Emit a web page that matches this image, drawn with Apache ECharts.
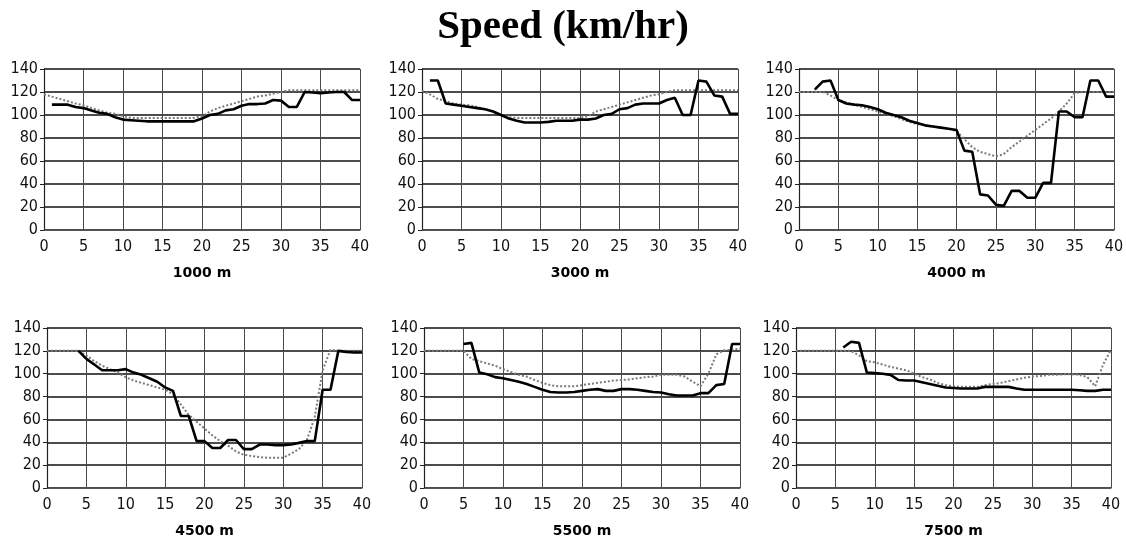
<!DOCTYPE html>
<html>
<head>
<meta charset="utf-8">
<title>Speed (km/hr)</title>
<script src="https://cdn.jsdelivr.net/npm/echarts@6/dist/echarts.min.js"></script>
<style>
  html, body { margin: 0; padding: 0; background: #fff; }
  #chart { width: 1126px; height: 540px; }
</style>
</head>
<body>
<div id="chart"></div>
<script>
// Distance along the section (x axis), shared by every panel
const distance = [0, 1, 2, 3, 4, 5, 6, 7, 8, 9, 10,
  11, 12, 13, 14, 15, 16, 17, 18, 19, 20,
  21, 22, 23, 24, 25, 26, 27, 28, 29, 30,
  31, 32, 33, 34, 35, 36, 37, 38, 39, 40];

const xTicks = [0, 5, 10, 15, 20, 25, 30, 35, 40];
const yTicks = [0, 20, 40, 60, 80, 100, 120, 140];

const chartTitle = 'Speed (km/hr)';

// Panel captions (x axis names)
const panelNames = ['1000 m', '3000 m', '4000 m', '4500 m', '5500 m', '7500 m'];

// Solid line (measured speed), km/hr
const measured1000 = [null, 109, 109, 109, 107, 106, 104, 102, 101, 98, 96,
  95.5, 95, 94.5, 94.5, 94.5, 94.5, 94.5, 94.5, 94.5, 97,
  100, 101, 104, 105, 108, 109.5, 109.5, 110, 113, 112.5,
  107, 107, 120, 119.5, 119, 119.5, 120, 120, 113, 113];
const measured3000 = [null, 130, 130, 110, 109, 108, 107, 106, 105, 103, 100,
  97, 95, 93.5, 93.5, 93.5, 94, 95, 95, 95, 96,
  96, 97, 100, 101, 105, 106, 109, 110, 110, 110,
  113, 115, 100, 100, 130, 129, 117, 116, 101, 101];
const measured4000 = [null, null, 122, 129, 130, 113, 110, 109, 108.5, 107, 105,
  102, 100, 98, 95, 93, 91, 90, 89, 88, 87,
  69, 68, 31, 30, 22, 21, 34, 34, 28, 28,
  41, 41, 103, 103, 98, 98, 130, 130, 116, 116];
const measured4500 = [null, null, null, null, 120, 113, 108, 103, 103, 103, 104,
  101, 99, 96, 93, 88, 85, 63, 63, 41, 41,
  35, 35, 42, 42, 34, 34, 38, 38, 37.5, 37.5,
  38, 39.5, 41, 41, 86, 86, 120, 119, 118.5, 118.5];
const measured5500 = [null, null, null, null, null, 126, 127, 101, 99.5, 97, 96,
  94.5, 93, 91, 88.5, 86, 84, 83.5, 83.5, 84, 85,
  86, 86.5, 85, 85, 86.5, 86.5, 86, 85, 84, 83.5,
  82, 81, 81, 81, 83, 83, 90, 91, 126, 126];
const measured7500 = [null, null, null, null, null, null, 123, 128, 127, 101, 100.5,
  100, 99, 94.5, 94, 94, 92.5, 91, 89.5, 88, 87.5,
  87, 87, 87, 88.5, 88.5, 88.5, 88.5, 87, 86, 86,
  86, 86, 86, 86, 86, 85.5, 85, 85, 86, 86];

// Dotted line (predicted speed), km/hr
const predicted1000 = [118, 116, 114, 112, 110, 108.5, 106, 104, 102, 101, 99,
  97.5, 97.5, 97.5, 97.5, 97.5, 97.5, 97.5, 97.5, 97.5, 99,
  103, 106, 108, 110, 112, 114, 116, 117, 118.5, 120,
  121.5, 121.5, 121.5, 121.5, 121.5, 121.5, 121.5, 121.5, 121.5, 121.5];
const predicted3000 = [121, 118, 114, 112, 110, 109, 108.5, 107, 105, 103, 100,
  98, 97.5, 97.5, 97.5, 97.5, 97.5, 97.5, 97.5, 97.5, 97.5,
  99, 103, 105, 107, 109, 111, 113, 115, 117, 118,
  120, 121.5, 121.5, 121.5, 121.5, 121.5, 121.5, 121.5, 121.5, 121.5];
const predicted4000 = [120, 120, 120, 120, 117, 113, 111, 109, 107, 105, 103,
  101, 99, 96.5, 94, 92, 91, 90, 89, 88, 86,
  79, 72, 68, 66, 64, 66, 72, 77, 82, 87,
  92, 97, 103, 110, 119, 120, 120, 120, 120, 120];
const predicted4500 = [120, 120, 120, 120, 120, 116, 111, 107, 104, 101, 97,
  94, 92, 90, 88, 86, 82, 73, 64, 58, 52,
  46, 41, 37, 32, 29, 28, 27, 26.5, 26.5, 26.5,
  30, 34, 42, 62, 103, 121, 120, 120, 120, 120];
const predicted5500 = [120, 120, 120, 120, 120, 120, 113, 111, 109, 107, 104,
  101.5, 99, 97.5, 94.5, 92, 90, 89, 89, 89, 90,
  91, 92, 93, 94, 94.5, 95, 96, 97, 97.5, 99,
  99, 99, 97.5, 93, 89, 100, 117, 120.5, 121, 122];
const predicted7500 = [120, 120, 120, 120, 120, 120, 120, 120, 116, 111, 110,
  108, 106, 104.5, 103, 100, 97, 95, 92, 90, 89,
  88.5, 88.5, 88.5, 90, 91, 92, 93.5, 95, 96.5, 97.5,
  98, 99, 99, 99.5, 99.5, 99, 97, 89, 108, 121];

const measuredSets = [measured1000, measured3000, measured4000, measured4500, measured5500, measured7500];
const predictedSets = [predicted1000, predicted3000, predicted4000, predicted4500, predicted5500, predicted7500];

// Plot-area boxes for the 2 x 3 panel layout
const panelBoxes = [
  { left: 44,  top: 69,  width: 316, height: 161 },
  { left: 422, top: 69,  width: 316, height: 161 },
  { left: 799, top: 69,  width: 315, height: 161 },
  { left: 47,  top: 328, width: 315, height: 160 },
  { left: 424, top: 328, width: 316, height: 160 },
  { left: 796, top: 328, width: 315, height: 160 }
];

const tickFont = '"DejaVu Sans Condensed", "Liberation Sans Narrow", "DejaVu Sans", sans-serif';

function pairs(values) {
  const out = [];
  distance.forEach((d, i) => { if (values[i] !== null) out.push([d, values[i]]); });
  return out;
}

const grid = [], xAxis = [], yAxis = [], series = [];
panelBoxes.forEach((box, k) => {
  grid.push(Object.assign({ outerBoundsMode: 'none', containLabel: false }, box));
  xAxis.push({
    type: 'value', gridIndex: k,
    min: xTicks[0], max: xTicks[xTicks.length - 1], interval: xTicks[1] - xTicks[0],
    name: panelNames[k], nameLocation: 'middle', nameGap: 36,
    nameTextStyle: { fontFamily: '"DejaVu Sans", sans-serif', fontWeight: 'bold', fontSize: 14, color: '#000' },
    axisLine: { show: true, lineStyle: { color: '#555', width: 1 } },
    axisTick: { show: false },
    axisLabel: { margin: 9, fontFamily: tickFont, fontSize: 16, color: '#111' },
    splitLine: { show: true, lineStyle: { color: '#4a4a4a', width: 1 } }
  });
  yAxis.push({
    type: 'value', gridIndex: k,
    min: yTicks[0], max: yTicks[yTicks.length - 1], interval: yTicks[1] - yTicks[0],
    axisLine: { show: true, lineStyle: { color: '#222', width: 1.2 } },
    axisTick: { show: true, length: 4, lineStyle: { color: '#222' } },
    axisLabel: { margin: 6, fontFamily: tickFont, fontSize: 16, color: '#111' },
    splitLine: { show: true, lineStyle: { color: '#111', width: 1.6 } }
  });
  series.push({
    type: 'line', xAxisIndex: k, yAxisIndex: k,
    data: pairs(predictedSets[k]),
    symbol: 'none', silent: true,
    lineStyle: { color: '#7a7a7a', width: 2, type: 'dotted' }
  });
  series.push({
    type: 'line', xAxisIndex: k, yAxisIndex: k,
    data: pairs(measuredSets[k]),
    symbol: 'none', silent: true,
    lineStyle: { color: '#000', width: 2.6 }
  });
});

const chart = echarts.init(document.getElementById('chart'), null, { renderer: 'canvas' });
chart.setOption({
  animation: false,
  backgroundColor: '#fff',
  title: {
    text: chartTitle, left: 'center', top: 2,
    textStyle: { fontFamily: '"Liberation Serif", "Times New Roman", serif', fontWeight: 'bold', fontSize: 41, color: '#000' }
  },
  grid, xAxis, yAxis, series
});
</script>
</body>
</html>
